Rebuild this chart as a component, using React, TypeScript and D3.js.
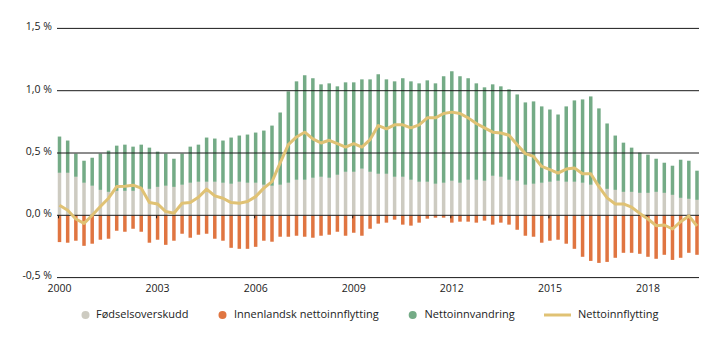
import React from "react";
import * as d3 from "d3";

const years = [2000, 2001, 2002, 2003, 2004, 2005, 2006, 2007, 2008, 2009, 2010, 2011, 2012, 2013, 2014, 2015, 2016, 2017, 2018, 2019];
const quarters = years.flatMap((y) => [1, 2, 3, 4].map((q) => `${y}K${q}`)).slice(0, 79);
const tickYears = ["2000", "2003", "2006", "2009", "2012", "2015", "2018"];
const yTicks = [-0.5, 0, 0.5, 1.0, 1.5];

const fodselsoverskudd = [
  0.341, 0.341, 0.309, 0.261, 0.237, 0.204, 0.188, 0.196, 0.196, 0.196,
  0.212, 0.212, 0.228, 0.237, 0.228, 0.245, 0.261, 0.269, 0.269, 0.269,
  0.261, 0.253, 0.269, 0.261, 0.261, 0.245, 0.237, 0.245, 0.261, 0.285,
  0.285, 0.301, 0.309, 0.301, 0.325, 0.349, 0.349, 0.374, 0.349, 0.333,
  0.333, 0.309, 0.309, 0.285, 0.269, 0.269, 0.253, 0.261, 0.277, 0.261,
  0.285, 0.285, 0.277, 0.317, 0.309, 0.285, 0.277, 0.245, 0.253, 0.261,
  0.269, 0.277, 0.269, 0.269, 0.261, 0.245, 0.245, 0.212, 0.204, 0.188,
  0.188, 0.18, 0.18, 0.188, 0.18, 0.164, 0.14, 0.132, 0.124,
];
const nettoinnvandring = [
  0.291, 0.259, 0.186, 0.177, 0.225, 0.291, 0.331, 0.363, 0.371, 0.355,
  0.355, 0.331, 0.283, 0.258, 0.226, 0.25, 0.29, 0.298, 0.355, 0.347,
  0.339, 0.371, 0.371, 0.387, 0.403, 0.435, 0.483, 0.58, 0.734, 0.79,
  0.839, 0.799, 0.742, 0.758, 0.71, 0.718, 0.718, 0.717, 0.742, 0.799,
  0.758, 0.766, 0.791, 0.79, 0.79, 0.814, 0.806, 0.855, 0.879, 0.855,
  0.815, 0.774, 0.75, 0.734, 0.726, 0.726, 0.693, 0.661, 0.661, 0.613,
  0.58, 0.532, 0.605, 0.653, 0.669, 0.709, 0.613, 0.525, 0.436, 0.395,
  0.355, 0.323, 0.307, 0.266, 0.242, 0.234, 0.306, 0.306, 0.234,
];
const innenlandsk = [
  -0.215, -0.22, -0.204, -0.245, -0.228, -0.196, -0.188, -0.124, -0.132, -0.108,
  -0.132, -0.22, -0.196, -0.237, -0.204, -0.148, -0.18, -0.156, -0.148, -0.188,
  -0.204, -0.261, -0.269, -0.269, -0.253, -0.204, -0.212, -0.172, -0.172, -0.164,
  -0.172, -0.18, -0.164, -0.156, -0.132, -0.164, -0.14, -0.164, -0.108, -0.067,
  -0.059, -0.035, -0.075, -0.083, -0.059, -0.027, -0.019, -0.019, -0.059, -0.051,
  -0.051, -0.059, -0.043, -0.075, -0.059, -0.075, -0.116, -0.164, -0.172, -0.22,
  -0.204, -0.196, -0.228, -0.269, -0.333, -0.366, -0.382, -0.374, -0.341, -0.301,
  -0.301, -0.309, -0.333, -0.349, -0.317, -0.358, -0.341, -0.301, -0.317,
];
const nettoinnflytting = [
  0.08, 0.04, -0.03, -0.065, 0.0, 0.07, 0.137, 0.231, 0.234, 0.242,
  0.218, 0.102, 0.091, 0.03, 0.016, 0.097, 0.102, 0.145, 0.21, 0.156,
  0.137, 0.102, 0.097, 0.11, 0.15, 0.218, 0.27, 0.42, 0.567, 0.629,
  0.667, 0.613, 0.58, 0.602, 0.575, 0.548, 0.575, 0.548, 0.608, 0.72,
  0.694, 0.726, 0.726, 0.702, 0.726, 0.782, 0.782, 0.817, 0.828, 0.817,
  0.782, 0.737, 0.702, 0.667, 0.661, 0.642, 0.567, 0.495, 0.473, 0.392,
  0.366, 0.339, 0.371, 0.379, 0.333, 0.333, 0.23, 0.14, 0.091, 0.091,
  0.065, 0.015, -0.03, -0.083, -0.078, -0.11, -0.051, -0.005, -0.086,
];

const seriesNames = ["Fødselsoverskudd", "Innenlandsk nettoinnflytting", "Nettoinnvandring", "Nettoinnflytting"];
const colors = {
  grey: "#cdcbc1",
  orange: "#e07541",
  green: "#74ab86",
  line: "#e0c274",
};

const W = 719;
const H = 341;
const FONT = "'Open Sans', sans-serif";

export default function App() {
  const x = d3.scalePoint<string>().domain(quarters).range([59.5, 697]);
  const y = d3.scaleLinear().domain([-0.5, 1.5]).range([277.6, 28.4]);
  const bw = 3.5;
  const gridX0 = 57;
  const gridX1 = 699;

  const line = d3
    .line<number>()
    .x((_, i) => x(quarters[i]) as number)
    .y((d) => y(d))
    .curve(d3.curveLinear);

  const legendY = 315;
  const legendItems = [
    { name: seriesNames[0], type: "dot", color: colors.grey, mx: 85.5, tx: 96 },
    { name: seriesNames[1], type: "dot", color: colors.orange, mx: 222.5, tx: 234 },
    { name: seriesNames[2], type: "dot", color: colors.green, mx: 412.7, tx: 424.5 },
    { name: seriesNames[3], type: "line", color: colors.line, mx: 544, tx: 578 },
  ];

  const fmt = (t: number) => d3.format(".1f")(t).replace(".", ",").replace("\u2212", "-") + " %";

  return (
    <svg
      width={W}
      height={H}
      style={{ position: "fixed", left: 0, top: 0, background: "#fff" }}
      fontFamily={FONT}
    >
      {quarters.map((q, i) => {
        const cx = x(q) as number;
        const g = fodselsoverskudd[i];
        const n = nettoinnvandring[i];
        const o = innenlandsk[i];
        return (
          <g key={q}>
            <rect x={cx - bw / 2} y={y(g)} width={bw} height={y(0) - y(g)} fill={colors.grey} />
            <rect x={cx - bw / 2} y={y(g + n)} width={bw} height={y(g) - y(g + n)} fill={colors.green} />
            <rect x={cx - bw / 2} y={y(0)} width={bw} height={y(o) - y(0)} fill={colors.orange} />
          </g>
        );
      })}
      {yTicks.map((t) => (
        <g key={t}>
          <line x1={gridX0} x2={gridX1} y1={y(t)} y2={y(t)} stroke="#1a1a1a" strokeWidth={1} />
          <text x={52} y={y(t) - 1} dominantBaseline="middle" textAnchor="end" fontSize={10.5} fill="#222">
            {fmt(t)}
          </text>
        </g>
      ))}
      {tickYears.map((yr) => {
        const cx = x(`${yr}K1`) as number;
        return (
          <g key={yr}>
            <line x1={cx - 1} x2={cx - 1} y1={y(0)} y2={y(0) + 3} stroke="#1a1a1a" strokeWidth={1} />
            <text x={cx} y={289} dominantBaseline="middle" textAnchor="middle" fontSize={10.5} fill="#222">
              {yr}
            </text>
          </g>
        );
      })}
      <path d={line(nettoinnflytting) as string} fill="none" stroke={colors.line} strokeWidth={3} strokeLinejoin="round" />
      {legendItems.map((it) => (
        <g key={it.name}>
          {it.type === "dot" ? (
            <circle cx={it.mx} cy={legendY} r={4} fill={it.color} />
          ) : (
            <line x1={it.mx} x2={it.mx + 27} y1={legendY} y2={legendY} stroke={it.color} strokeWidth={3} />
          )}
          <text x={it.tx} y={legendY} dominantBaseline="middle" fontSize={11} fill="#222">
            {it.name}
          </text>
        </g>
      ))}
    </svg>
  );
}
